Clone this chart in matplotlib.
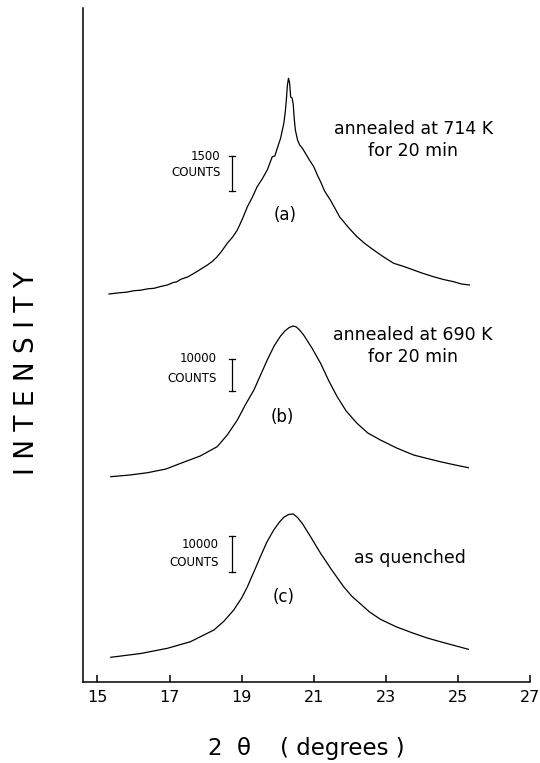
import numpy as np
import matplotlib
matplotlib.use('Agg')
import matplotlib.pyplot as plt

# Diffraction traces: 2-theta (deg) and intensity above each trace's own baseline
two_theta_a = [15.32, 15.6, 15.8, 16.01, 16.2, 16.4, 16.57, 16.75, 16.94, 17.1, 17.2, 17.31,
               17.5, 17.68, 17.85, 18.05, 18.2, 18.32, 18.45, 18.6, 18.75, 18.88, 19.02,
               19.16, 19.3, 19.43, 19.57, 19.71, 19.85, 19.92, 20.0, 20.08, 20.17, 20.21,
               20.24, 20.27, 20.3, 20.33, 20.36, 20.4, 20.43, 20.46, 20.49, 20.55, 20.61,
               20.68, 20.77, 20.88, 21.0, 21.1, 21.19, 21.3, 21.46, 21.6, 21.72, 21.83,
               22.0, 22.2, 22.4, 22.66, 22.9, 23.05, 23.22, 23.5, 23.77, 24.0, 24.32,
               24.6, 24.88, 25.1, 25.32]
intensity_a = [3.0, 4.2, 4.8, 6.3, 6.8, 8.2, 8.7, 10.5, 12.0, 14.5, 15.2, 17.7,
               20.0, 23.7, 27.5, 32.0, 36.0, 40.3, 46.0, 53.7, 60.0, 67.0, 78.0,
               90.3, 100.0, 110.3, 118.0, 127.0, 140.3, 141.0, 150.0, 158.7, 173.7, 185.0,
               197.0, 212.0, 218.7, 214.0, 200.0, 199.0, 193.0, 178.0, 167.0, 157.0, 152.0,
               149.0, 143.7, 137.0, 130.3, 122.0, 115.3, 106.0, 97.0, 88.0, 80.0, 75.3,
               68.0, 60.3, 54.0, 47.0, 41.0, 37.5, 33.7, 30.5, 27.0, 24.0, 20.3,
               17.5, 15.3, 13.0, 12.0]

two_theta_b = [15.37, 15.9, 16.39, 16.9, 17.31, 17.85, 18.32, 18.6, 18.88, 19.1, 19.34,
               19.71, 19.9, 20.08, 20.2, 20.32, 20.43, 20.52, 20.62, 20.72, 20.95, 21.19,
               21.42, 21.65, 21.9, 22.2, 22.5, 22.85, 23.3, 23.77, 24.15, 24.51, 24.9, 25.29]
intensity_b = [2.3, 4.0, 6.3, 10.0, 15.7, 23.0, 32.3, 44.0, 59.0, 74.0, 89.0,
               119.0, 133.0, 143.0, 148.0, 151.5, 153.0, 152.0, 148.5, 144.0, 131.0, 115.7,
               98.0, 82.3, 68.0, 55.7, 46.0, 39.0, 31.0, 24.0, 20.5, 17.3, 14.2, 11.3]

two_theta_c = [15.37, 16.2, 16.94, 17.58, 18.23, 18.5, 18.78, 19.0, 19.16, 19.35, 19.52,
               19.7, 19.89, 20.05, 20.17, 20.3, 20.43, 20.55, 20.68, 20.9, 21.19, 21.5,
               21.83, 22.05, 22.3, 22.55, 22.85, 23.3, 23.77, 24.15, 24.51, 24.9, 25.29]
intensity_c = [2.7, 6.5, 11.7, 18.3, 30.0, 38.5, 50.0, 62.0, 73.3, 89.0, 103.3,
               118.0, 130.0, 138.0, 142.7, 145.5, 146.0, 142.5, 136.7, 124.0, 106.7, 90.0,
               73.3, 64.0, 56.0, 48.0, 40.7, 33.0, 26.7, 22.0, 18.3, 14.5, 10.7]

# Scale bars (counts) and their plot length per count
bar_counts = [1500, 10000, 10000]
units_per_count = [35.3 / 1500, 31.4 / 10000, 35.7 / 10000]
bar_labels = ['1500', '10000', '10000']

trace_labels = ['(a)', '(b)', '(c)']
conditions = ['annealed at 714 K\nfor 20 min', 'annealed at 690 K\nfor 20 min', 'as quenched']

x_ticks = [15, 17, 19, 21, 23, 25, 27]

# layout (plot units are ~pixels above the x axis)
baselines = [385, 203, 22]
bar_x = 18.74
bar_bottoms = [491, 291.3, 110.3]
count_text_x = [18.42, 18.31, 18.37]
count_text_y = [(526, 510), (323, 303), (137, 119.3)]
cond_xy = [(23.76, 542), (23.76, 336), (23.68, 124)]
letter_xy = [(20.22, 467), (20.12, 265), (20.16, 85)]

fig = plt.figure(figsize=(5.4, 7.63), dpi=100)
ax = fig.add_axes([82.7 / 540, 81 / 763, (530 - 82.7) / 540, 674 / 763])
ax.set_xlim(14.59, 27.0)
ax.set_ylim(0, 674)

traces = [(two_theta_a, intensity_a), (two_theta_b, intensity_b), (two_theta_c, intensity_c)]
for i, (tt, inten) in enumerate(traces):
    ax.plot(tt, np.array(inten) + baselines[i], color='black', lw=0.9)

    # vertical scale bar with end caps
    h = bar_counts[i] * units_per_count[i]
    y0 = bar_bottoms[i]
    ax.plot([bar_x, bar_x], [y0, y0 + h], color='black', lw=0.9)
    for yc in (y0, y0 + h):
        ax.plot([bar_x - 0.08, bar_x + 0.08], [yc, yc], color='black', lw=0.9)

    ax.text(count_text_x[i], count_text_y[i][0], bar_labels[i], ha='right', va='center', fontsize=8.5)
    ax.text(count_text_x[i], count_text_y[i][1], 'COUNTS', ha='right', va='center', fontsize=8.5)

    ax.text(cond_xy[i][0], cond_xy[i][1], conditions[i], ha='center', va='center',
            fontsize=12.5, linespacing=1.25)
    ax.text(letter_xy[i][0], letter_xy[i][1], trace_labels[i], ha='center', va='center', fontsize=12)

ax.spines['top'].set_visible(False)
ax.spines['right'].set_visible(False)
ax.spines['left'].set_linewidth(1.1)
ax.spines['bottom'].set_linewidth(1.1)
ax.set_yticks([])
ax.set_xticks(x_ticks)
ax.tick_params(axis='x', direction='in', length=5, width=1.1, labelsize=11.5, pad=6)

fig.text(306.7 / 540, 1 - 748 / 763, '2  θ    ( degrees )', ha='center', va='center', fontsize=16.5)
fig.text(27 / 540, 1 - 373 / 763, 'I N T E N S I T Y', ha='center', va='center',
         rotation=90, fontsize=19)

fig.savefig('out.png', dpi=100)
